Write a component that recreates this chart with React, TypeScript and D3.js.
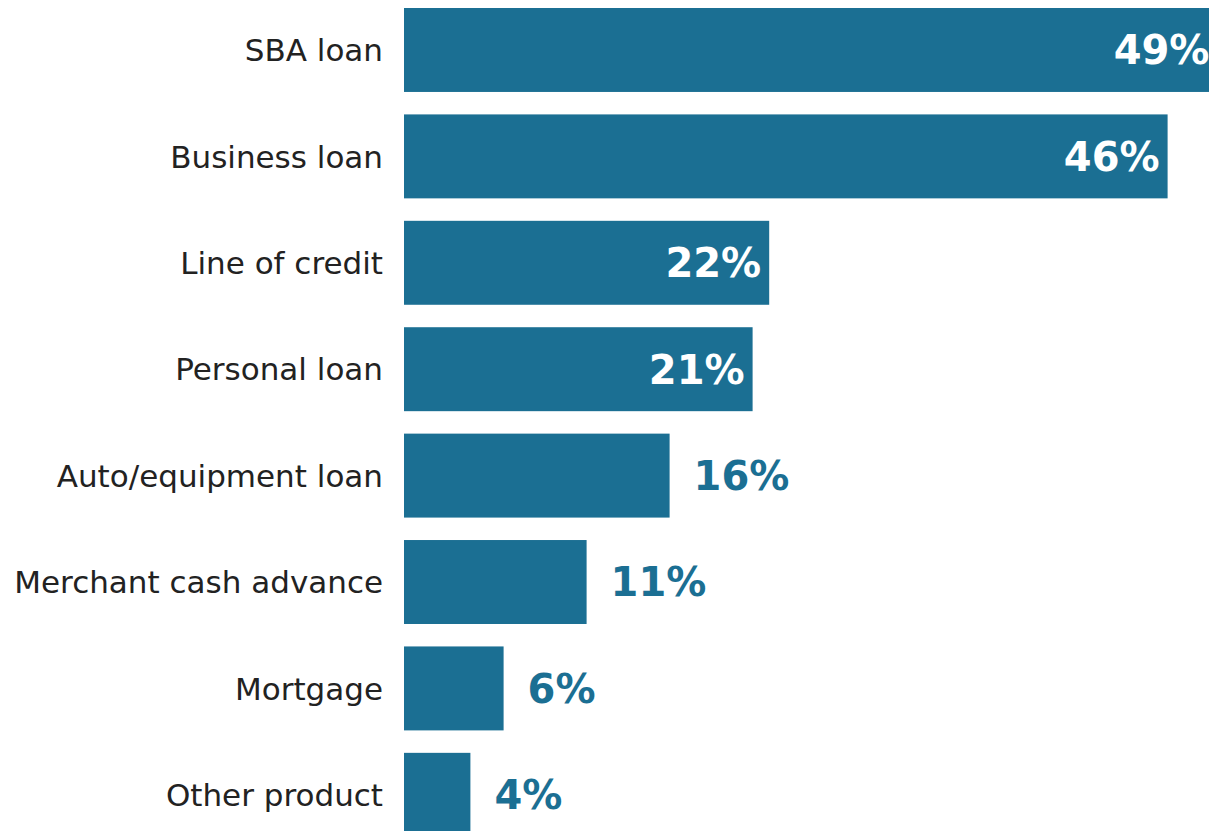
import React from "react";
import * as d3 from "d3";

const categories = [
  "SBA loan",
  "Business loan",
  "Line of credit",
  "Personal loan",
  "Auto/equipment loan",
  "Merchant cash advance",
  "Mortgage",
  "Other product",
];
const values = [49, 46, 22, 21, 16, 11, 6, 4];
const insideThreshold = 20;

const W = 1209;
const H = 831;
const BAR = "#1b6f93";

export default function App() {
  const x = d3.scaleLinear().domain([0, 50]).range([404, 404 + 830]);
  const y = d3
    .scaleBand<string>()
    .domain(categories)
    .range([8, 836.8])
    .paddingInner(0.211)
    .paddingOuter(0);
  const font = "'DejaVu Sans', sans-serif";
  return (
    <svg
      width={W}
      height={H}
      style={{ position: "absolute", left: 0, top: 0, background: "#fff" }}
    >
      {categories.map((c, i) => {
        const v = values[i];
        const y0 = y(c)!;
        const bw = y.bandwidth();
        const cy = y0 + bw / 2;
        const inside = v >= insideThreshold;
        return (
          <g key={c}>
            <rect x={x(0)} y={y0} width={x(v) - x(0)} height={bw} fill={BAR} />
            <text
              x={x(0) - 21}
              y={cy}
              dy="0.36em"
              textAnchor="end"
              fontFamily={font}
              fontSize={31}
              fill="#222"
            >
              {c}
            </text>
            <text
              x={inside ? x(v) - 8 : x(v) + 24}
              y={cy}
              dy="0.36em"
              textAnchor={inside ? "end" : "start"}
              fontFamily={font}
              fontWeight="bold"
              fontSize={40}
              fill={inside ? "#fff" : BAR}
            >
              {`${v}%`}
            </text>
          </g>
        );
      })}
    </svg>
  );
}
